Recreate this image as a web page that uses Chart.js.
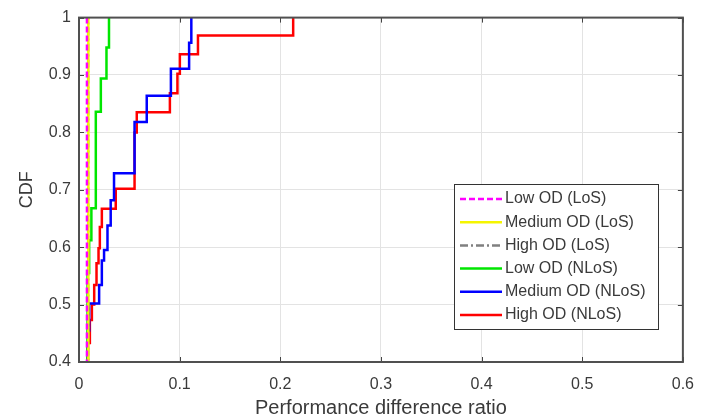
<!DOCTYPE html>
<html>
<head>
<meta charset="utf-8">
<script src="https://cdn.jsdelivr.net/npm/chart.js@4/dist/chart.umd.min.js"></script>
<style>
  html, body { margin: 0; padding: 0; background: #fff; }
  #wrap { width: 707px; height: 420px; position: relative; }
</style>
</head>
<body>
<div id="wrap"><canvas id="cdfChart" width="707" height="420"></canvas></div>
<script>
// series names (legend order)
var seriesNames = ["Low OD (LoS)", "Medium OD (LoS)", "High OD (LoS)", "Low OD (NLoS)", "Medium OD (NLoS)", "High OD (NLoS)"];

// CDF steps: x = where the jump happens, y = CDF value after the jump
var lowLosX = [0.0079, 0.0079];
var lowLosY = [0.3, 1];
var medLosX = [0.0093, 0.0093];
var medLosY = [0.3, 1];
var highLosX = [0.0091, 0.0091];
var highLosY = [0.3, 1];

var lowNlosX = [0.0085, 0.0085, 0.0101, 0.0123, 0.0167, 0.0217, 0.0273, 0.0298];
var lowNlosY = [0.3, 0.555, 0.612, 0.668, 0.836, 0.894, 0.948, 1];

var medNlosX = [0.0089, 0.0089, 0.0101, 0.020, 0.0227, 0.0249, 0.0283, 0.0315, 0.0348, 0.0552, 0.0673, 0.0913, 0.1094, 0.1116];
var medNlosY = [0.3, 0.455, 0.502, 0.534, 0.577, 0.595, 0.638, 0.682, 0.729, 0.818, 0.864, 0.911, 0.956, 1];

var highNlosX = [0.0086, 0.0086, 0.0108, 0.0128, 0.0151, 0.0174, 0.0194, 0.0207, 0.0227, 0.0365, 0.0552, 0.0574, 0.0903, 0.0978, 0.1002, 0.1182, 0.2128];
var highNlosY = [0.3, 0.433, 0.473, 0.5, 0.534, 0.572, 0.598, 0.635, 0.667, 0.702, 0.80, 0.835, 0.868, 0.902, 0.936, 0.969, 1];

// axis ticks
var xTicks = [0, 0.1, 0.2, 0.3, 0.4, 0.5, 0.6];
var yTicks = [0.4, 0.5, 0.6, 0.7, 0.8, 0.9, 1];

function pts(xs, ys) {
  return xs.map(function (x, i) { return { x: x, y: ys[i] }; });
}

var colors = ["#ff00ff", "#f5f500", "#808080", "#00e600", "#0000ff", "#ff0000"];
var dashes = [[6, 3], [], [8, 3, 2, 3], [], [], []];
var allX = [lowLosX, medLosX, highLosX, lowNlosX, medNlosX, highNlosX];
var allY = [lowLosY, medLosY, highLosY, lowNlosY, medNlosY, highNlosY];

var datasets = seriesNames.map(function (name, i) {
  return {
    label: name,
    data: pts(allX[i], allY[i]),
    borderColor: colors[i],
    backgroundColor: colors[i],
    borderWidth: 2.5,
    borderDash: dashes[i],
    pointRadius: 0,
    showLine: true,
    stepped: "before", // horizontal first, then the jump
    fill: false
  };
});

var textColor = "#3a3a3a";
var fontFam = "'Liberation Sans', Arial, sans-serif";

// box, inward tick marks and legend like the matlab figure
var matlabBox = {
  id: "matlabBox",
  afterDatasetsDraw: function (chart) {
    var c = chart.ctx, a = chart.chartArea;
    var xs = chart.scales.x, ys = chart.scales.y;
    c.save();
    c.strokeStyle = "#444";
    c.lineWidth = 1;
    xTicks.forEach(function (v) {
      var px = Math.round(xs.getPixelForValue(v)) + 0.5;
      c.beginPath();
      c.moveTo(px, a.bottom); c.lineTo(px, a.bottom - 5);
      c.moveTo(px, a.top); c.lineTo(px, a.top + 5);
      c.stroke();
    });
    yTicks.forEach(function (v) {
      var py = Math.round(ys.getPixelForValue(v)) + 0.5;
      c.beginPath();
      c.moveTo(a.left, py); c.lineTo(a.left + 5, py);
      c.moveTo(a.right, py); c.lineTo(a.right - 5, py);
      c.stroke();
    });
    c.lineWidth = 2;
    c.strokeStyle = "#505050";
    c.strokeRect(a.left, a.top, a.right - a.left, a.bottom - a.top);

    // legend
    var lx = 454, ly = 184, lw = 204, lh = 145;
    c.fillStyle = "#fff";
    c.fillRect(lx, ly, lw, lh);
    c.lineWidth = 1;
    c.strokeStyle = "#333";
    c.strokeRect(lx + 0.5, ly + 0.5, lw, lh);
    c.font = "16px " + fontFam;
    c.textBaseline = "middle";
    c.textAlign = "left";
    chart.data.datasets.forEach(function (ds, i) {
      var yy = ly + 15 + i * 23.2;
      c.strokeStyle = ds.borderColor;
      c.lineWidth = 2.5;
      c.setLineDash(ds.borderDash);
      c.beginPath();
      c.moveTo(lx + 6, yy); c.lineTo(lx + 48, yy);
      c.stroke();
      c.setLineDash([]);
      c.fillStyle = textColor;
      c.fillText(ds.label, lx + 51, yy);
    });
    c.restore();
  }
};

var ctx = document.getElementById("cdfChart").getContext("2d");
var cdfChart = new Chart(ctx, {
  type: "scatter",
  data: { datasets: datasets },
  plugins: [matlabBox],
  options: {
    responsive: false,
    animation: false,
    layout: { padding: { top: 17, right: 19, left: 0, bottom: 0 } },
    plugins: {
      legend: { display: false },
      tooltip: { enabled: false }
    },
    scales: {
      x: {
        type: "linear",
        min: 0,
        max: 0.6,
        afterFit: function (s) { s.height = 58; },
        afterBuildTicks: function (s) { s.ticks = xTicks.map(function (v) { return { value: v }; }); },
        ticks: {
          padding: 13,
          color: textColor,
          font: { size: 16, family: fontFam },
          callback: function (v) { return String(Math.round(v * 10) / 10); }
        },
        grid: { color: "#e3e3e3", lineWidth: 1, drawTicks: false },
        border: { display: false },
        title: {
          display: true,
          text: "Performance difference ratio",
          color: textColor,
          font: { size: 20, family: fontFam },
          padding: { top: 0, bottom: 0 }
        }
      },
      y: {
        type: "linear",
        min: 0.4,
        max: 1,
        afterFit: function (s) { s.width = 79; },
        afterBuildTicks: function (s) { s.ticks = yTicks.map(function (v) { return { value: v }; }); },
        ticks: {
          padding: 8,
          color: textColor,
          font: { size: 16, family: fontFam },
          callback: function (v) { return String(Math.round(v * 10) / 10); }
        },
        grid: { color: "#e3e3e3", lineWidth: 1, drawTicks: false },
        border: { display: false },
        title: {
          display: true,
          text: "CDF",
          color: textColor,
          font: { size: 18, family: fontFam },
          padding: { top: 16, bottom: 0 }
        }
      }
    }
  }
});
</script>
</body>
</html>
